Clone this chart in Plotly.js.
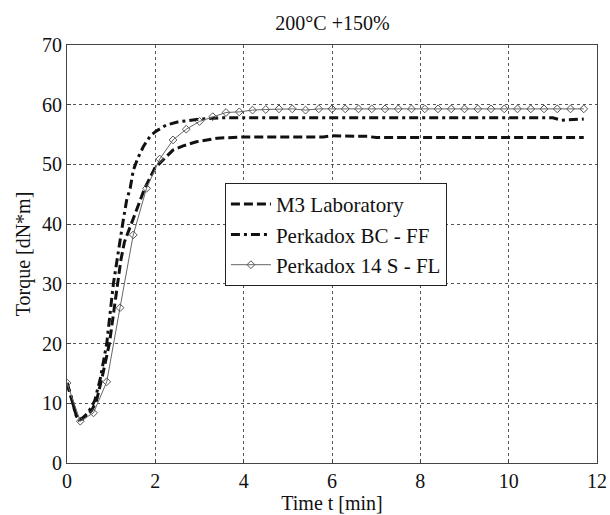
<!DOCTYPE html>
<html>
<head>
<meta charset="utf-8">
<script src="https://cdn.plot.ly/plotly-3.0.1.min.js"></script>
<style>html,body{margin:0;padding:0;background:#fff;}#chart{width:610px;height:515px;}</style>
</head>
<body>
<div id="chart"></div>
<script>
// M3 Laboratory
const tM3 = [0, 0.1, 0.2, 0.27, 0.35, 0.45, 0.56, 0.67, 0.8, 0.96, 1.05, 1.14, 1.22, 1.3, 1.48, 1.65, 1.76, 1.99, 2.1, 2.4, 2.63, 2.93, 3.4, 4.0, 5.0, 5.8, 6.0, 6.8, 7.0, 11.7];
const yM3 = [13.4, 11, 8.2, 7.2, 7.4, 8, 8.8, 10.5, 14.5, 20, 25, 30, 34, 37, 40.5, 44, 46, 49.4, 50.2, 52.4, 53.1, 53.8, 54.4, 54.6, 54.6, 54.6, 54.8, 54.7, 54.5, 54.5];
// Perkadox BC - FF
const tBC = [0, 0.1, 0.2, 0.27, 0.35, 0.45, 0.55, 0.63, 0.75, 0.9, 1.05, 1.17, 1.27, 1.35, 1.43, 1.5, 1.6, 1.73, 1.88, 2.0, 2.25, 2.5, 3.0, 3.5, 11.0, 11.2, 11.4, 11.7];
const yBC = [13.4, 11, 8, 7.2, 7.5, 8.2, 9.3, 10.5, 14, 20, 30, 36, 40.5, 44, 46, 49, 51, 53, 54.7, 55.5, 56.6, 57.1, 57.6, 57.8, 57.8, 57.4, 57.5, 57.6];
// Perkadox 14 S - FL
const t14 = [0, 0.3, 0.6, 0.9, 1.2, 1.5, 1.8, 2.1, 2.4, 2.7, 3.0, 3.3, 3.6, 3.9, 4.2, 4.5, 4.8, 5.1, 5.4, 5.7, 6.0, 6.3, 6.6, 6.9, 7.2, 7.5, 7.8, 8.1, 8.4, 8.7, 9.0, 9.3, 9.6, 9.9, 10.2, 10.5, 10.8, 11.1, 11.4, 11.7];
const y14 = [13.4, 7.0, 8.4, 13.6, 26, 38.2, 46, 50.9, 54.1, 55.9, 57.2, 58.0, 58.7, 58.8, 59.1, 59.2, 59.3, 59.3, 59.1, 59.3, 59.3, 59.3, 59.3, 59.3, 59.3, 59.3, 59.3, 59.3, 59.3, 59.3, 59.3, 59.3, 59.3, 59.3, 59.3, 59.3, 59.3, 59.3, 59.3, 59.3];
const names = ['M3 Laboratory', 'Perkadox BC - FF', 'Perkadox 14 S - FL'];
const xTicks = [0, 2, 4, 6, 8, 10, 12];
const yTicks = [0, 10, 20, 30, 40, 50, 60, 70];

const font = {family: 'Liberation Serif, Times New Roman, serif', color: '#111', size: 20};
const traces = [
  {x: tM3, y: yM3, name: names[0], mode: 'lines', line: {color: '#111', width: 3, dash: '9px,4px'}},
  {x: tBC, y: yBC, name: names[1], mode: 'lines', line: {color: '#111', width: 3, dash: '9px,4px,3px,4px'}},
  {x: t14, y: y14, name: names[2], mode: 'lines+markers', line: {color: '#666', width: 1},
   marker: {symbol: 'diamond-open', size: 6, color: '#555', line: {width: 1, color: '#555'}}}
];
const axisCommon = {showline: true, mirror: true, linecolor: '#444', linewidth: 1, ticks: 'inside', ticklen: 4, tickcolor: '#444',
  showgrid: true, gridcolor: '#555', griddash: 'dot', gridwidth: 1, zeroline: false, tickfont: {size: 20}};
const layout = {
  width: 610, height: 515,
  margin: {l: 67, r: 13, t: 45, b: 52},
  paper_bgcolor: '#fff', plot_bgcolor: '#fff',
  font: font,
  title: {text: '200°C +150%', x: 0.545, xanchor: 'center', y: 0.955, yanchor: 'middle', font: {size: 20}},
  xaxis: Object.assign({}, axisCommon, {range: [0, 12], tickvals: xTicks, ticktext: xTicks.map(String),
    title: {text: 'Time t [min]', standoff: 0, font: {size: 20}}}),
  yaxis: Object.assign({}, axisCommon, {range: [0, 70], tickvals: yTicks, ticktext: yTicks.map(String),
    title: {text: 'Torque [dN*m]', standoff: 6, font: {size: 20}}}),
  showlegend: true,
  legend: {x: 0.298, y: 0.67, xanchor: 'left', yanchor: 'top', bgcolor: '#fff', bordercolor: '#222', borderwidth: 1,
    font: {size: 21}, tracegroupgap: 0, itemwidth: 40}
};
Plotly.newPlot('chart', traces, layout, {displayModeBar: false, staticPlot: true});
</script>
</body>
</html>
